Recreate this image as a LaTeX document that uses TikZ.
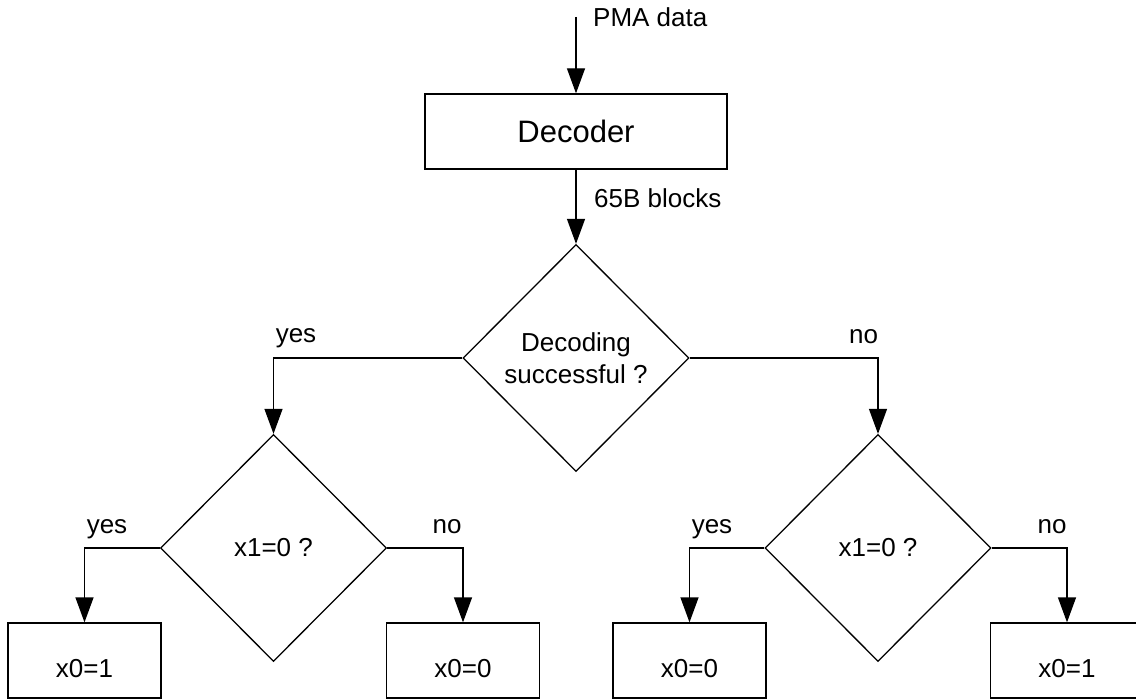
\documentclass[tikz,border=0pt]{standalone}
\usepackage{fontspec}
\setmainfont{Liberation Sans}
\usetikzlibrary{shapes.geometric, arrows.meta}

\begin{document}
\begin{tikzpicture}[
        x=1pt, y=-1pt,
        box/.style={draw, line width=1.3pt, minimum width=153pt, minimum height=75pt, inner sep=0pt, font=\fontsize{26}{32}\selectfont},
        result/.style={box, text height=33pt, text depth=0pt},
        decision/.style={diamond, draw, line width=1.3pt, minimum width=226pt, minimum height=227pt, inner sep=0pt, align=center, font=\fontsize{26}{32}\selectfont},
        flow/.style={line width=1.3pt, -{Triangle[length=25pt, width=18pt]}},
        lbl/.style={inner sep=0pt, font=\fontsize{26}{32}\selectfont}
    ]

        % Fix the visible area
        \clip (0,0) rectangle (1136,700);

        % Input and decoder
        \coordinate (in) at (576,17);
        \node[box, minimum width=302pt, font=\fontsize{31}{37}\selectfont] (dec) at (576,131.5) {Decoder};

        % Decisions
        \node[decision] (succ) at (576,358) {Decoding\\successful ?};
        \node[decision] (leftq) at (273.5,548) {x1=0 ?};
        \node[decision] (rightq) at (878,548) {x1=0 ?};

        % Results
        \node[result] (out1) at (84.5,660.5) {x0=1};
        \node[result] (out2) at (463,660.5) {x0=0};
        \node[result] (out3) at (689.5,660.5) {x0=0};
        \node[result] (out4) at (1067,660.5) {x0=1};

        % Connectors
        \draw[flow] (in) -- (dec.north);
        \draw[flow] (dec.south) -- (succ.north);
        \draw[flow] (succ.west) -| (leftq.north);
        \draw[flow] (succ.east) -| (rightq.north);
        \draw[flow] (leftq.west) -| (out1.north);
        \draw[flow] (leftq.east) -| (out2.north);
        \draw[flow] (rightq.west) -| (out3.north);
        \draw[flow] (rightq.east) -| (out4.north);

        % Labels
        \node[lbl, anchor=base west] (pmalbl) at (593,27) {PMA data};
        \node[lbl, anchor=base west] (blklbl) at (594,208) {65B blocks};
        \node[lbl, anchor=base] (yes0) at (296,343) {yes};
        \node[lbl, anchor=base] (no0) at (863.5,344) {no};
        \node[lbl, anchor=base] (yes1) at (107,533) {yes};
        \node[lbl, anchor=base] (no1) at (447,533) {no};
        \node[lbl, anchor=base] (yes2) at (712,533) {yes};
        \node[lbl, anchor=base] (no2) at (1052,533) {no};

    \end{tikzpicture}
\end{document}
